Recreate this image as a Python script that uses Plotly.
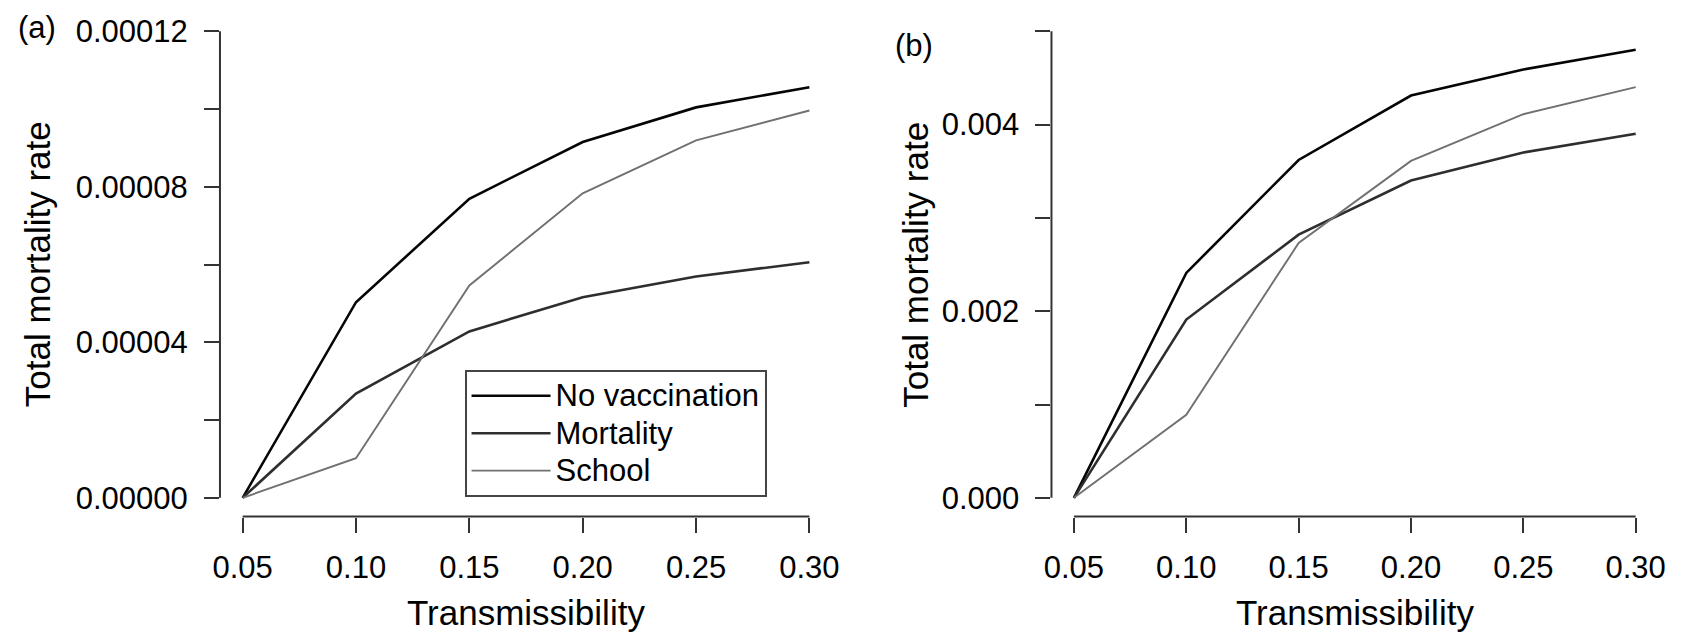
import plotly.graph_objects as go

# ---------------- data ----------------
transmissibility = [0.05, 0.10, 0.15, 0.20, 0.25, 0.30]

a_no_vaccination = [0.0, 0.0000503, 0.0000769, 0.0000915, 0.0001004, 0.0001056]
a_mortality      = [0.0, 0.0000268, 0.0000428, 0.0000516, 0.0000569, 0.0000606]
a_school         = [0.0, 0.0000102, 0.0000546, 0.0000783, 0.0000919, 0.0000996]

b_no_vaccination = [0.0, 0.00241, 0.00362, 0.00431, 0.00459, 0.00480]
b_mortality      = [0.0, 0.00191, 0.00282, 0.00340, 0.00370, 0.00390]
b_school         = [0.0, 0.00089, 0.00273, 0.00361, 0.00411, 0.00440]

series_names = ["No vaccination", "Mortality", "School"]

x_tickvals = [0.05, 0.10, 0.15, 0.20, 0.25, 0.30]
x_ticktext = ["0.05", "0.10", "0.15", "0.20", "0.25", "0.30"]

a_y_tickvals = [0.0, 0.00002, 0.00004, 0.00006, 0.00008, 0.00010, 0.00012]
a_y_ticktext = ["0.00000", "", "0.00004", "", "0.00008", "", "0.00012"]

b_y_tickvals = [0.0, 0.001, 0.002, 0.003, 0.004, 0.005]
b_y_ticktext = ["0.000", "", "0.002", "", "0.004", ""]

x_title = "Transmissibility"
y_title = "Total mortality rate"
panel_labels = ["(a)", "(b)"]

# ---------------- styles ----------------
FONT = "Liberation Sans, Arial, Helvetica, sans-serif"
line_colors = ["#050505", "#2e2e2e", "#707070"]
line_widths = [2.6, 2.6, 1.9]
AXIS_COLOR = "#333333"

fig = go.Figure()

a_series = [a_no_vaccination, a_mortality, a_school]
b_series = [b_no_vaccination, b_mortality, b_school]

for name, ys, c, w in zip(series_names, a_series, line_colors, line_widths):
    fig.add_trace(go.Scatter(x=transmissibility, y=ys, mode="lines",
                             name='<span style="font-size:31px">' + name + "</span>",
                             line=dict(color=c, width=w), xaxis="x", yaxis="y",
                             showlegend=True))
for name, ys, c, w in zip(series_names, b_series, line_colors, line_widths):
    fig.add_trace(go.Scatter(x=transmissibility, y=ys, mode="lines", name=name,
                             line=dict(color=c, width=w), xaxis="x2", yaxis="y2",
                             showlegend=False))

ydom = [0.18275, 0.98022]

def xaxis_cfg(domain):
    return dict(domain=domain, range=[0.04, 0.31], tickvals=x_tickvals, ticktext=x_ticktext,
                ticks="outside", ticklen=15, tickwidth=2, tickcolor=AXIS_COLOR,
                showline=False, showgrid=False, zeroline=False, fixedrange=True,
                tickfont=dict(family=FONT, size=31, color="#000000"),
                ticklabelstandoff=8)

def yaxis_cfg(rng, tv, tt, anchor):
    return dict(domain=ydom, range=rng, tickvals=tv, ticktext=tt, anchor=anchor,
                ticks="outside", ticklen=15, tickwidth=2, tickcolor=AXIS_COLOR,
                showline=False, showgrid=False, zeroline=False, fixedrange=True,
                tickfont=dict(family=FONT, size=31, color="#000000"),
                ticklabelstandoff=10)

a_span = a_y_tickvals[-1] - a_y_tickvals[0]
b_span = b_y_tickvals[-1] - b_y_tickvals[0]

fig.update_layout(
    width=1681, height=632,
    margin=dict(l=0, r=0, t=0, b=0),
    paper_bgcolor="white", plot_bgcolor="white",
    font=dict(family=FONT, size=31, color="#000000"),
    xaxis=dict(**xaxis_cfg([0.12731, 0.49494]), anchor="y"),
    yaxis=yaxis_cfg([a_y_tickvals[0] - 0.04 * a_span, a_y_tickvals[-1] + 0.04 * a_span],
                    a_y_tickvals, a_y_ticktext, "x"),
    xaxis2=dict(**xaxis_cfg([0.62671, 0.99108]), anchor="y2"),
    yaxis2=yaxis_cfg([b_y_tickvals[0] - 0.04 * b_span, b_y_tickvals[-1] + 0.04 * b_span],
                     b_y_tickvals, b_y_ticktext, "x2"),
    legend=dict(x=0.2742, y=1 - 370 / 632, xanchor="left", yanchor="top",
                bordercolor="#444444", borderwidth=2, bgcolor="white",
                font=dict(family=FONT, size=26.5, color="#000000"),
                itemwidth=79, tracegroupgap=0),
    showlegend=True,
)

# R-style axis lines spanning only first..last tick
shapes = []
for xr, yr, ytv in (("x", "y", a_y_tickvals), ("x2", "y2", b_y_tickvals)):
    shapes.append(dict(type="line", xref=xr, yref=yr + " domain",
                       x0=x_tickvals[0], x1=x_tickvals[-1], y0=0, y1=0,
                       line=dict(color=AXIS_COLOR, width=2)))
    shapes.append(dict(type="line", xref=xr + " domain", yref=yr,
                       x0=0, x1=0, y0=ytv[0], y1=ytv[-1],
                       line=dict(color=AXIS_COLOR, width=2)))
fig.update_layout(shapes=shapes)

annotations = [
    # x titles
    dict(text=x_title, xref="x domain", yref="paper", x=0.5, y=1 - 612 / 632,
         xanchor="center", yanchor="middle", showarrow=False, font=dict(size=35)),
    dict(text=x_title, xref="x2 domain", yref="paper", x=0.5, y=1 - 612 / 632,
         xanchor="center", yanchor="middle", showarrow=False, font=dict(size=35)),
    # y titles
    dict(text=y_title, xref="paper", yref="y domain", x=30 / 1681, y=0.5, textangle=-90,
         xanchor="center", yanchor="middle", showarrow=False, font=dict(size=35)),
    dict(text=y_title, xref="paper", yref="y2 domain", x=916 / 1681, y=0.5, textangle=-90,
         xanchor="center", yanchor="middle", showarrow=False, font=dict(size=35)),
    # panel labels
    dict(text=panel_labels[0], xref="paper", yref="paper", x=29 / 1681, y=1 - 27 / 632,
         xanchor="center", yanchor="middle", showarrow=False, font=dict(size=31)),
    dict(text=panel_labels[1], xref="paper", yref="paper", x=915 / 1681, y=1 - 46 / 632,
         xanchor="center", yanchor="middle", showarrow=False, font=dict(size=31)),
]
fig.update_layout(annotations=annotations)

fig.write_html("out.html")
